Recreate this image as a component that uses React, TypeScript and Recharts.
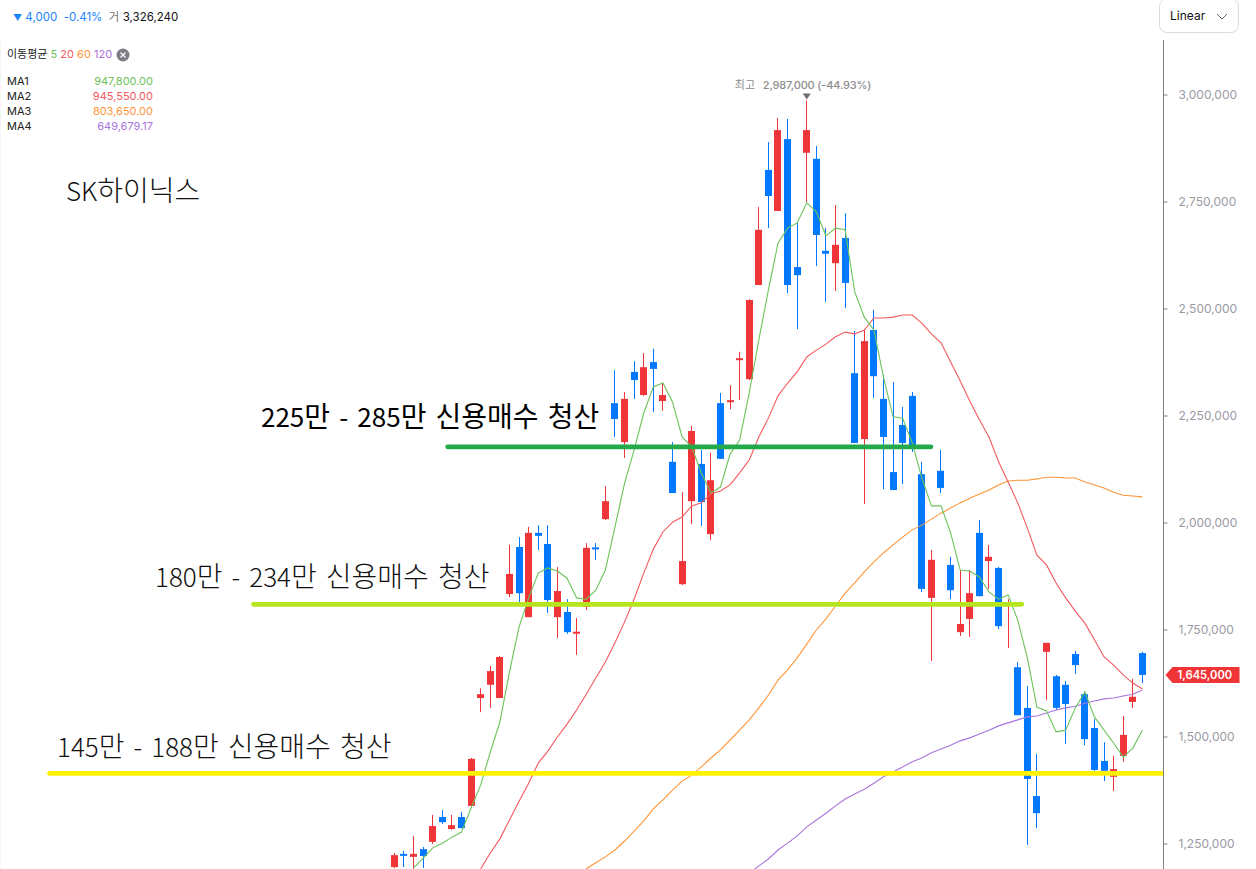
import React from "react";
import { ComposedChart, Bar, Line, XAxis, YAxis, CartesianGrid, ReferenceDot } from "recharts";

const UNIT = 1000;
const opens = [1196,1227,1220,1238,1255,1313,1285,1313,1339,1591,1622,1591,1834,1944,1780,1977,1951,1780,1792,1744,1804,1943,2009,2280,2189,2353,2299,2376,2285,2143,1857,2051,2138,1974,2280,2283,2382,2336,2556,2825,2729,2897,2598,2865,2851,2636,2607,2666,2350,2196,2451,2290,2119,2229,2297,2114,1825,2122,1902,1745,1776,1977,1911,1895,1809,1663,1568,1362,1699,1642,1622,1694,1600,1521,1444,1407,1456,1582,1696];
const closes = [1224,1224,1227,1222,1292,1301,1294,1287,1449,1600,1654,1687,1881,1836,1977,1970,1820,1841,1745,1746,1942,1940,2051,2243,2290,2334,2364,2360,2299,2070,1911,2215,2049,2100,2150,2287,2385,2521,2685,2764,2918,2556,2579,2918,2673,2629,2650,2561,2187,2425,2343,2201,2077,2187,2173,1846,1914,2082,1843,1764,1836,1829,1921,1759,1813,1551,1402,1322,1720,1568,1577,1668,1495,1423,1421,1425,1505,1594,1645];
const highs = [1229,1234,1269,1243,1318,1329,1318,1325,1451,1614,1666,1689,1949,1967,1991,1995,1995,1897,1822,1778,1953,1953,2086,2357,2306,2378,2397,2407,2327,2189,2072,2227,2171,2164,2304,2322,2400,2523,2738,2890,2946,2944,2701,2987,2881,2689,2743,2724,2449,2453,2498,2346,2329,2271,2306,2143,1937,2171,1921,1890,1890,2007,1949,1897,1822,1675,1619,1460,1720,1645,1631,1701,1607,1542,1488,1456,1549,1636,1699];
const lows = [1194,1196,1192,1194,1250,1297,1283,1287,1336,1558,1568,1591,1827,1815,1780,1937,1790,1731,1741,1692,1797,1914,2007,2201,2152,2290,2297,2259,2262,2070,1855,1998,1993,1960,2150,2266,2287,2334,2556,2689,2729,2537,2453,2750,2600,2516,2542,2502,2187,2044,2292,2079,2077,2091,2166,1839,1678,2070,1822,1736,1734,1829,1846,1752,1708,1551,1248,1287,1586,1563,1484,1647,1481,1421,1397,1374,1442,1568,1626];

const ma5Start = 2;
const ma5 = [1194,1217,1241,1252,1266,1278,1334,1388,1465,1535,1652,1757,1825,1883,1895,1888,1871,1825,1822,1843,1890,1991,2093,2171,2257,2318,2327,2283,2201,2178,2117,2070,2084,2161,2194,2304,2428,2544,2654,2689,2701,2748,2727,2671,2689,2685,2540,2481,2451,2341,2248,2245,2187,2105,2040,2040,1977,1890,1888,1874,1839,1822,1832,1773,1685,1570,1561,1512,1516,1568,1605,1547,1516,1486,1453,1474,1516];
const ma20Start = 9;
const ma20 = [1192,1229,1262,1306,1350,1392,1439,1467,1500,1530,1563,1600,1638,1675,1720,1769,1822,1883,1939,1979,2002,2014,2040,2047,2068,2075,2089,2117,2147,2201,2245,2297,2327,2353,2388,2404,2418,2435,2446,2442,2451,2479,2479,2481,2486,2486,2467,2442,2421,2376,2332,2285,2241,2201,2143,2096,2047,1988,1925,1902,1860,1825,1794,1766,1727,1687,1668,1645,1626,1612];
const ma60Start = 20;
const ma60 = [1192,1206,1220,1236,1257,1280,1304,1332,1353,1376,1397,1411,1430,1451,1470,1493,1516,1540,1568,1598,1633,1657,1685,1717,1750,1776,1806,1836,1860,1886,1909,1930,1949,1967,1984,1995,2009,2023,2035,2047,2058,2068,2077,2089,2098,2100,2100,2103,2107,2107,2105,2105,2096,2089,2082,2072,2065,2063,2061];
const ma120Start = 37;
const ma120 = [1181,1199,1215,1236,1252,1269,1290,1306,1322,1339,1355,1367,1378,1392,1407,1418,1430,1442,1451,1463,1472,1481,1491,1498,1507,1516,1526,1533,1540,1547,1549,1556,1563,1568,1572,1579,1584,1589,1591,1596,1600,1610];

const priceTicks = [1250000,1500000,1750000,2000000,2250000,2500000,2750000,3000000];
const gridIndexes = [-35.6,-14.53,7.55,25.45,46.53,68.58];
const Y_DOMAIN = [1191600,3128500];
const X_DOMAIN = [-41.13,80.2];

const yellowLevel = 1415000; const yellowSpan = [-35.97,80.2];
const limeLevel = 1810000; const limeSpan = [-14.69,65.42];
const greenLevel = 2178000; const greenSpan = [5.55,55.95];

const legendRows = [
  ["MA1","947,800.00","#6cc35a"],
  ["MA2","945,550.00","#f4595f"],
  ["MA3","803,650.00","#ff9538"],
  ["MA4","649,679.17","#a974dd"],
];
const CJK = "Inter, 'Noto Sans CJK KR', sans-serif";
const LABEL = "'Noto Sans CJK KR', 'Noto Sans', sans-serif";

const at = (start: number, arr: number[], i: number) => {
  const v = arr[i - start];
  return v === undefined ? undefined : v * UNIT;
};
const rows = opens.map((o, i) => ({
  i,
  open: o * UNIT,
  close: closes[i] * UNIT,
  high: highs[i] * UNIT,
  low: lows[i] * UNIT,
  range: [lows[i] * UNIT, highs[i] * UNIT],
  m5: at(ma5Start, ma5, i),
  m20: at(ma20Start, ma20, i),
  m60: at(ma60Start, ma60, i),
  m120: at(ma120Start, ma120, i),
}));
const seg = (span: number[], v: number) => span.map((i) => ({ i, v }));

const Candle = (p: any) => {
  const { x, y, width, height, payload } = p;
  const { open, close, high, low } = payload;
  const up = close >= open;
  const color = up ? "#f03539" : "#0078ff";
  const k = height / (high - low);
  const wick = Math.round(x + width / 2 - 0.5);
  const top = y + (high - Math.max(open, close)) * k;
  const bot = y + (high - Math.min(open, close)) * k;
  return (
    <g>
      <rect x={wick} y={y} width={1} height={height} fill={color} />
      <rect x={wick - 3} y={top} width={7} height={Math.max(bot - top, 2)} fill={color} />
    </g>
  );
};

const Peak = (p: any) => {
  const { cx, cy } = p;
  return (
    <g fontFamily={CJK} fontSize={11} fontWeight={500} fill="#8d8d8d">
      <path d={`M${cx - 4} ${cy - 7}L${cx + 4} ${cy - 7}L${cx} ${cy - 1}Z`} fill="#6f6f6f" />
      <text x={cx - 72} y={cy - 12} fontWeight={400}>최고</text>
      <text x={cx - 44} y={cy - 12} letterSpacing={-0.15}>2,987,000 (-44.93%)</text>
    </g>
  );
};

const Badge = (p: any) => {
  const { cx, cy } = p;
  const l = cx + 2;
  return (
    <g>
      <path d={`M${l} ${cy}L${l + 7} ${cy - 8}L${l + 74} ${cy - 8}L${l + 74} ${cy + 8}L${l + 7} ${cy + 8}Z`} fill="#f03539" />
      <text x={l + 12} y={cy + 4} fontFamily={CJK} fontSize={11.2} fontWeight={600} fill="#fff">1,645,000</text>
    </g>
  );
};

const Note = ({ x, y, children, color = "#111", weight = 300 }: any) => (
  <div style={{ position: "absolute", left: x, top: y, fontFamily: LABEL, fontSize: 26, fontWeight: weight, color, lineHeight: "38px", wordSpacing: 3.3, whiteSpace: "pre", background: "#fff" }}>
    {String(children).split(/([\uAC00-\uD7A3]+)/).map((part: string, k: number) =>
      k % 2 === 1 ? <span key={k} style={{ fontSize: 28 }}>{part}</span> : part
    )}
  </div>
);

export default function App() {
  return (
    <div style={{ position: "absolute", left: 0, top: 0, width: 1256, height: 869, overflow: "hidden", background: "#fff" }}>
      <ComposedChart width={1256} height={869} data={rows} margin={{ top: 40, right: 0, bottom: 0, left: 0 }}>
        <CartesianGrid horizontal={false} vertical stroke="#ececec" />
        <XAxis dataKey="i" type="number" domain={X_DOMAIN} allowDataOverflow ticks={gridIndexes} tick={false} tickLine={false} axisLine={false} height={0} />
        <YAxis orientation="right" width={92.5} domain={Y_DOMAIN} allowDataOverflow ticks={priceTicks} interval={0}
          tickFormatter={(v: number) => v.toLocaleString("en-US")}
          tick={{ fill: "#9a9aa5", fontSize: 12, fontFamily: CJK }} tickSize={4} tickMargin={11}
          stroke="#7d8085" />
        <Bar dataKey="range" barSize={7} shape={<Candle />} isAnimationActive={false} />
        <Line dataKey="m120" stroke="#a974dd" strokeWidth={1.1} dot={false} isAnimationActive={false} />
        <Line dataKey="m60" stroke="#ff9538" strokeWidth={1.1} dot={false} isAnimationActive={false} />
        <Line dataKey="m20" stroke="#f4595f" strokeWidth={1.1} dot={false} isAnimationActive={false} />
        <Line dataKey="m5" stroke="#6cc35a" strokeWidth={1.1} dot={false} isAnimationActive={false} />
        <Line data={seg(greenSpan, greenLevel)} dataKey="v" stroke="#22a94a" strokeWidth={4.7} strokeLinecap="round" dot={false} isAnimationActive={false} />
        <Line data={seg(limeSpan, limeLevel)} dataKey="v" stroke="#b5e61d" strokeWidth={4.7} strokeLinecap="round" dot={false} isAnimationActive={false} />
        <Line data={seg(yellowSpan, yellowLevel)} dataKey="v" stroke="#fff200" strokeWidth={4.7} strokeLinecap="round" dot={false} isAnimationActive={false} />
        <ReferenceDot x={43} y={2987000} ifOverflow="visible" shape={<Peak />} />
        <ReferenceDot x={X_DOMAIN[1]} y={1645000} ifOverflow="visible" shape={<Badge />} />
      </ComposedChart>

      <Note x={66} y={170}>SK하이닉스</Note>
      <Note x={261} y={396} weight={400} color="#000">225만 - 285만 신용매수 청산</Note>
      <Note x={155} y={556}>180만 - 234만 신용매수 청산</Note>
      <Note x={57} y={726}>145만 - 188만 신용매수 청산</Note>

      <div style={{ position: "absolute", left: 13, top: 10, fontFamily: CJK, fontSize: 11.5, whiteSpace: "pre", color: "#1a84ff", lineHeight: "14px" }}>
        <span style={{ fontSize: 9 }}>▼</span> 4,000{"  "}-0.41%{"  "}<span style={{ color: "#777" }}>거</span> <span style={{ color: "#111" }}>3,326,240</span>
      </div>
      <div style={{ position: "absolute", left: 1159, top: -2, width: 78, height: 33, border: "1px solid #dcdcdc", borderRadius: 8, background: "#fff", fontFamily: CJK, fontSize: 12, color: "#111" }}>
        <span style={{ position: "absolute", left: 10, top: 9 }}>Linear</span>
        <svg style={{ position: "absolute", left: 56, top: 13 }} width={12} height={9}>
          <path d="M1 2L6 7L11 2" fill="none" stroke="#666" strokeWidth={1} />
        </svg>
      </div>
      <div style={{ position: "absolute", left: 7, top: 47, fontFamily: CJK, fontSize: 11, whiteSpace: "pre", color: "#222", lineHeight: "14px" }}>
        이동평균 <span style={{ color: "#6cc35a" }}>5</span> <span style={{ color: "#f4595f" }}>20</span> <span style={{ color: "#ff9538" }}>60</span> <span style={{ color: "#a974dd" }}>120</span>
      </div>
      <svg style={{ position: "absolute", left: 116, top: 48 }} width={14} height={14}>
        <circle cx={7} cy={7} r={6.5} fill="#7d7d85" />
        <path d="M4.5 4.5L9.5 9.5M9.5 4.5L4.5 9.5" stroke="#fff" strokeWidth={1.2} />
      </svg>
      {legendRows.map(([n, v, c], k) => (
        <div key={n} style={{ position: "absolute", left: 7, top: 74 + k * 15, width: 146, display: "flex", justifyContent: "space-between", fontFamily: CJK, fontSize: 11, lineHeight: "15px" }}>
          <span style={{ color: "#222" }}>{n}</span><span style={{ color: c }}>{v}</span>
        </div>
      ))}
    </div>
  );
}
